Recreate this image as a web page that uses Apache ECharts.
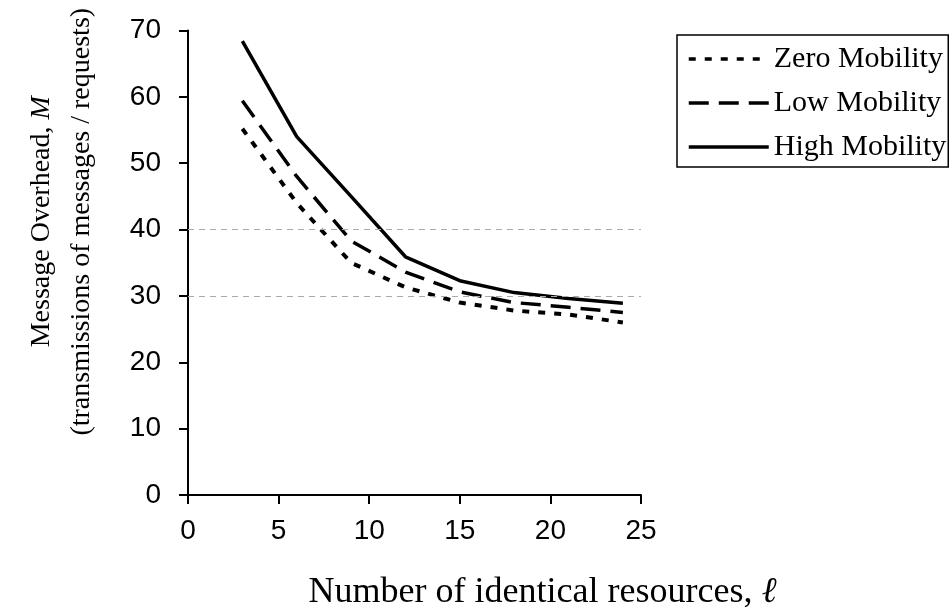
<!DOCTYPE html>
<html>
<head>
<meta charset="utf-8">
<script src="https://cdn.jsdelivr.net/npm/echarts@6/dist/echarts.min.js"></script>
<style>html,body{margin:0;padding:0;background:#fff}#c{width:951px;height:616px}</style>
</head>
<body>
<div id="c"></div>
<script>
const xValues = [3, 6, 9, 12, 15, 18, 21, 24];
const zeroMobility = [55.2, 44.0, 35.0, 31.3, 29.0, 27.8, 27.2, 26.0];
const lowMobility = [59.4, 48.0, 38.3, 33.6, 30.6, 29.0, 28.3, 27.5];
const highMobility = [68.4, 54.0, 45.0, 35.9, 32.3, 30.5, 29.6, 28.9];
const seriesNames = ['Zero Mobility', 'Low Mobility', 'High Mobility'];
const refLines = [30, 40];
const xTicks = [0, 5, 10, 15, 20, 25];
const yTicks = [0, 10, 20, 30, 40, 50, 60, 70];

const pairs = arr => xValues.map((x, i) => [x, arr[i]]);
const serif = 'Liberation Serif';
const sans = 'Liberation Sans';

const chart = echarts.init(document.getElementById('c'), null, {renderer: 'canvas'});
chart.setOption({
  backgroundColor: '#fff',
  animation: false,
  grid: {left: 188, right: 310, top: 30.5, bottom: 121, containLabel: false},
  legend: {
    orient: 'vertical',
    left: 677, top: 35,
    padding: [9, 2, 5, 10],
    borderColor: '#000', borderWidth: 1.5,
    itemWidth: 80, itemHeight: 14, itemGap: 14,
    itemStyle: {opacity: 0},
    lineStyle: {width: 3.5},
    textStyle: {fontFamily: serif, fontSize: 30, color: '#000'},
    data: seriesNames
  },
  xAxis: {
    type: 'value', min: xTicks[0], max: xTicks[xTicks.length - 1], interval: 5,
    axisLine: {lineStyle: {color: '#000', width: 2}},
    axisTick: {show: true, length: 9, lineStyle: {color: '#000', width: 2}},
    axisLabel: {fontFamily: sans, fontSize: 28, color: '#000', margin: 22},
    splitLine: {show: false},
    name: '{t|Number of identical resources, }{i|ℓ}',
    nameLocation: 'middle', nameGap: 80,
    nameTextStyle: {padding: [0, 0, 0, 256], rich: {
      t: {fontFamily: serif, fontSize: 36, color: '#000'},
      i: {fontFamily: serif, fontStyle: 'italic', fontSize: 36, color: '#000'}
    }}
  },
  yAxis: {
    type: 'value', min: yTicks[0], max: yTicks[yTicks.length - 1], interval: 10,
    axisLine: {show: true, lineStyle: {color: '#000', width: 2}},
    axisTick: {show: true, length: 9, lineStyle: {color: '#000', width: 2}},
    axisLabel: {fontFamily: sans, fontSize: 28, color: '#000', margin: 27},
    splitLine: {show: false},
    name: '{t|Message Overhead, }{i|M}\n{t|(transmissions of messages / requests)}',
    nameLocation: 'middle', nameGap: 86, nameRotate: 90,
    nameTextStyle: {lineHeight: 40, padding: [0, 0, 0, 82], rich: {
      t: {fontFamily: serif, fontSize: 28, color: '#000', lineHeight: 40},
      i: {fontFamily: serif, fontStyle: 'italic', fontSize: 28, color: '#000', lineHeight: 40}
    }}
  },
  series: [
    {
      name: seriesNames[0], type: 'line', data: pairs(zeroMobility), symbol: 'none',
      lineStyle: {color: '#000', width: 4, type: [7, 9], cap: 'butt'}, itemStyle: {color: '#000'},
      markLine: {
        silent: true, symbol: 'none', label: {show: false},
        lineStyle: {color: '#aaa', width: 1, type: [6, 5]},
        data: refLines.map(v => ({yAxis: v}))
      }
    },
    {
      name: seriesNames[1], type: 'line', data: pairs(lowMobility), symbol: 'none',
      lineStyle: {color: '#000', width: 3.5, type: [20, 10]}, itemStyle: {color: '#000'}
    },
    {
      name: seriesNames[2], type: 'line', data: pairs(highMobility), symbol: 'none',
      lineStyle: {color: '#000', width: 3.5, type: 'solid'}, itemStyle: {color: '#000'}
    }
  ]
});
</script>
</body>
</html>
